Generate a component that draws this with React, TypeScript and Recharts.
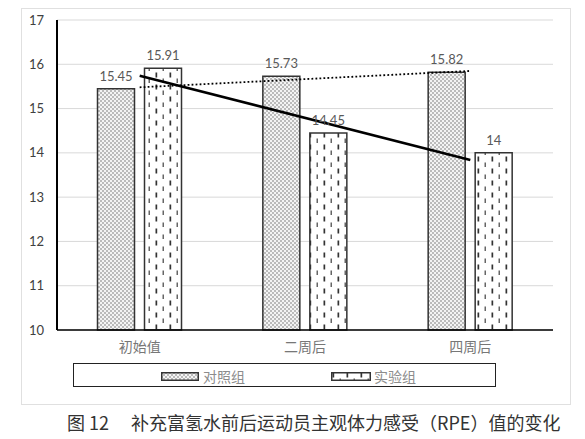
import React from "react";
import {
  ComposedChart,
  Bar,
  Line,
  XAxis,
  YAxis,
  CartesianGrid,
  LabelList,
} from "recharts";

const categories = ["初始值", "二周后", "四周后"];
const controlValues = [15.45, 15.73, 15.82];
const experimentValues = [15.91, 14.45, 14];
// trend line ends (drawn only at the first and last category)
const controlTrend = [15.48, null, 15.85];
const experimentTrend = [15.74, null, 13.84];
const yTicks = [10, 11, 12, 13, 14, 15, 16, 17];

const chartData = categories.map((name, i) => ({
  name,
  control: controlValues[i],
  experiment: experimentValues[i],
  controlTrend: controlTrend[i],
  experimentTrend: experimentTrend[i],
}));

const numFont = "Lato, 'Open Sans', sans-serif";
const cjkFont = "'Noto Sans CJK SC', sans-serif";

function Patterns() {
  return (
    <svg width={0} height={0} style={{ position: "absolute" }}>
      <defs>
        <pattern id="dots" width={4} height={4} patternUnits="userSpaceOnUse">
          <rect width={4} height={4} fill="#f4f4f4" />
          <circle cx={1} cy={1} r={0.75} fill="#666" />
          <circle cx={3} cy={3} r={0.75} fill="#666" />
        </pattern>
        <pattern id="dashes" width={14} height={12} patternUnits="userSpaceOnUse">
          <rect width={14} height={12} fill="#fff" />
          <rect x={1.5} y={0.5} width={1.7} height={5} fill="#333" />
          <rect x={8.5} y={6.5} width={1.5} height={4.5} fill="#666" />
        </pattern>
      </defs>
    </svg>
  );
}

export default function App() {
  return (
    <div
      style={{
        position: "absolute",
        left: 0,
        top: 0,
        width: 585,
        height: 439,
        background: "#fff",
        overflow: "hidden",
      }}
    >
      <Patterns />
      {/* light frame around chart */}
      <div
        style={{
          position: "absolute",
          left: 21,
          top: 8,
          width: 548,
          height: 395,
          border: "1px solid #e0e0e0",
        }}
      />
      <div style={{ position: "absolute", left: 0, top: 0 }}>
        <ComposedChart
          width={585}
          height={362}
          data={chartData}
          margin={{ top: 20, right: 32, left: 27, bottom: 0 }}
          barCategoryGap="24.5%"
          barGap={10}
        >
          <CartesianGrid vertical={false} stroke="#d9d9d9" strokeWidth={1} />
          <XAxis
            dataKey="name"
            tickLine={false}
            axisLine={{ stroke: "#000", strokeWidth: 1.5 }}
            tick={{ fill: "#777", fontSize: 14, fontFamily: cjkFont }}
            tickMargin={6}
            height={32}
          />
          <YAxis
            domain={[10, 17]}
            ticks={yTicks}
            width={30}
            tickLine={false}
            axisLine={{ stroke: "#000", strokeWidth: 2 }}
            tick={{ fill: "#404040", fontSize: 13, fontFamily: numFont }}
            tickMargin={7}
          />
          <Bar
            dataKey="control"
            fill="url(#dots)"
            stroke="#333"
            strokeWidth={1.5}
            isAnimationActive={false}
          >
            <LabelList
              dataKey="control"
              position="top"
              offset={8}
              fill="#595959"
              fontSize={13}
              fontFamily={numFont}
            />
          </Bar>
          <Bar
            dataKey="experiment"
            fill="url(#dashes)"
            stroke="#333"
            strokeWidth={1.5}
            isAnimationActive={false}
          >
            <LabelList
              dataKey="experiment"
              position="top"
              offset={8}
              fill="#595959"
              fontSize={13}
              fontFamily={numFont}
            />
          </Bar>
          <Line
            dataKey="controlTrend"
            stroke="#000"
            strokeWidth={1.8}
            strokeDasharray="1.8 2.2"
            dot={false}
            connectNulls
            isAnimationActive={false}
          />
          <Line
            dataKey="experimentTrend"
            stroke="#000"
            strokeWidth={2.5}
            dot={false}
            connectNulls
            isAnimationActive={false}
          />
        </ComposedChart>
      </div>
      {/* legend box */}
      <div
        style={{
          position: "absolute",
          left: 73,
          top: 363,
          width: 421,
          height: 22,
          border: "1.5px solid #222",
          fontFamily: cjkFont,
          fontSize: 14,
          color: "#8c8c8c",
        }}
      >
        <div style={{ position: "absolute", left: 87, top: 2, display: "flex", alignItems: "center" }}>
          <svg width={38} height={9} style={{ marginRight: 4 }}>
            <rect x={0.75} y={0.75} width={36.5} height={7.5} fill="url(#dots)" stroke="#333" strokeWidth={1.5} />
          </svg>
          <span>对照组</span>
        </div>
        <div style={{ position: "absolute", left: 257, top: 2, display: "flex", alignItems: "center" }}>
          <svg width={40} height={9} style={{ marginRight: 3 }}>
            <rect x={0.75} y={0.75} width={38.5} height={7.5} fill="url(#dashes)" stroke="#333" strokeWidth={1.5} />
          </svg>
          <span>实验组</span>
        </div>
      </div>
      {/* caption */}
      <div
        style={{
          position: "absolute",
          left: 67,
          top: 410,
          fontFamily: cjkFont,
          fontSize: 18,
          color: "#333",
          whiteSpace: "pre",
          lineHeight: "24px",
        }}
      >
        {"图 12\u3000 补充富氢水前后运动员主观体力感受（RPE）值的变化"}
      </div>
    </div>
  );
}
